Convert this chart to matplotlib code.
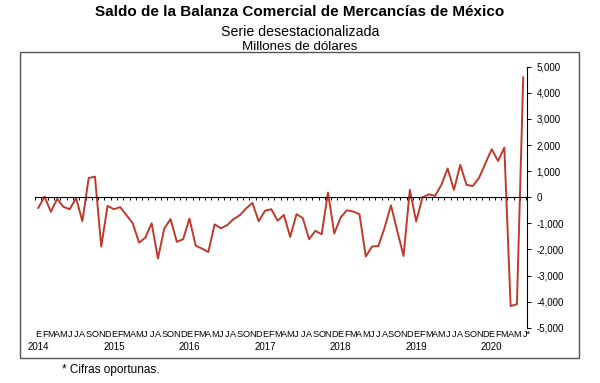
import matplotlib.pyplot as plt
import matplotlib.ticker as mticker
from matplotlib.patches import Rectangle
import numpy as np

# Saldo de la balanza comercial, millones de dolares (serie desestacionalizada)
months = ["E", "F", "M", "A", "M", "J", "J", "A", "S", "O", "N", "D"]
years = [2014, 2015, 2016, 2017, 2018, 2019, 2020]
saldo_2014 = [-410, 20, -560, -60, -370, -460, -30, -920, 730, 790, -1890, -330]
saldo_2015 = [-460, -380, -690, -1000, -1740, -1550, -1000, -2350, -1200, -840, -1710, -1610]
saldo_2016 = [-820, -1860, -1970, -2100, -1040, -1190, -1070, -840, -690, -430, -220, -920]
saldo_2017 = [-520, -460, -900, -680, -1520, -650, -800, -1610, -1290, -1420, 180, -1390]
saldo_2018 = [-780, -500, -550, -650, -2270, -1890, -1870, -1160, -310, -1290, -2250, 280]
saldo_2019 = [-930, -10, 110, 50, 470, 1100, 280, 1240, 470, 430, 750, 1300]
saldo_2020 = [1840, 1390, 1900, -4170, -4100, 4590]

saldo = saldo_2014 + saldo_2015 + saldo_2016 + saldo_2017 + saldo_2018 + saldo_2019 + saldo_2020
n = len(saldo)
x = np.arange(n)
month_labels = [months[i % 12] for i in range(n)]
month_labels[-1] = "J*"

plt.rcParams['font.family'] = ['Liberation Sans', 'DejaVu Sans']
plt.rcParams['axes.unicode_minus'] = False

fig = plt.figure(figsize=(6, 3.83), dpi=100)
W, H = 600, 383
ax = fig.add_axes([34.5 / W, 1 - 327.7 / H, (527 - 34.5) / W, (327.7 - 66.7) / H])
ax.plot(x, saldo, color="#c0392b", lw=1.4)
ax.set_xlim(-0.6, n - 0.4)
ax.set_ylim(-5000, 5000)

for s in ["left", "top"]:
    ax.spines[s].set_visible(False)
ax.spines["right"].set_linewidth(0.8)
ax.spines["bottom"].set_position(("data", 0))
ax.spines["bottom"].set_linewidth(0.8)

ax.set_xticks(np.arange(-0.5, n, 1))
ax.tick_params(axis="x", direction="out", length=2.5, width=0.7, labelbottom=False)

ax.yaxis.tick_right()
ax.set_yticks(range(-5000, 5001, 1000))
ax.yaxis.set_major_formatter(mticker.StrMethodFormatter("{x:,.0f}"))
ax.tick_params(axis="y", direction="out", length=3, width=0.7, labelsize=7, pad=4)

# month letters and years under the plot
sec = ax.secondary_xaxis("bottom")
sec.set_xticks(x, labels=month_labels)
sec.tick_params(length=0, pad=1.5)
for lab in sec.get_xticklabels():
    lab.set_family(["Liberation Sans Narrow", "Liberation Sans"])
    lab.set_fontsize(6.6)
sec.get_xticklabels()[-1].set_horizontalalignment("left")
sec.spines["bottom"].set_visible(False)

sec2 = ax.secondary_xaxis("bottom")
sec2.set_xticks(x[::12], labels=[str(y) for y in years])
sec2.tick_params(length=0, labelsize=7, pad=10)
sec2.spines["bottom"].set_visible(False)

# frame around the chart
fig.add_artist(Rectangle((20 / W, 1 - 358 / H), (579 - 20) / W, (358 - 52) / H,
                         transform=fig.transFigure, fill=False, ec="#555555", lw=1))

fig.text(0.5, 1 - 12.5 / H, "Saldo de la Balanza Comercial de Mercancías de México",
         ha="center", va="center", fontsize=11, fontweight="bold")
fig.text(0.5, 1 - 31.5 / H, "Serie desestacionalizada", ha="center", va="center", fontsize=10.2)
fig.text(0.5, 1 - 46.5 / H, "Millones de dólares", ha="center", va="center", fontsize=9.6)
fig.text(62 / W, 1 - 370 / H, "* Cifras oportunas.", ha="left", va="center", fontsize=8.5)

fig.savefig("out.png", dpi=100)
